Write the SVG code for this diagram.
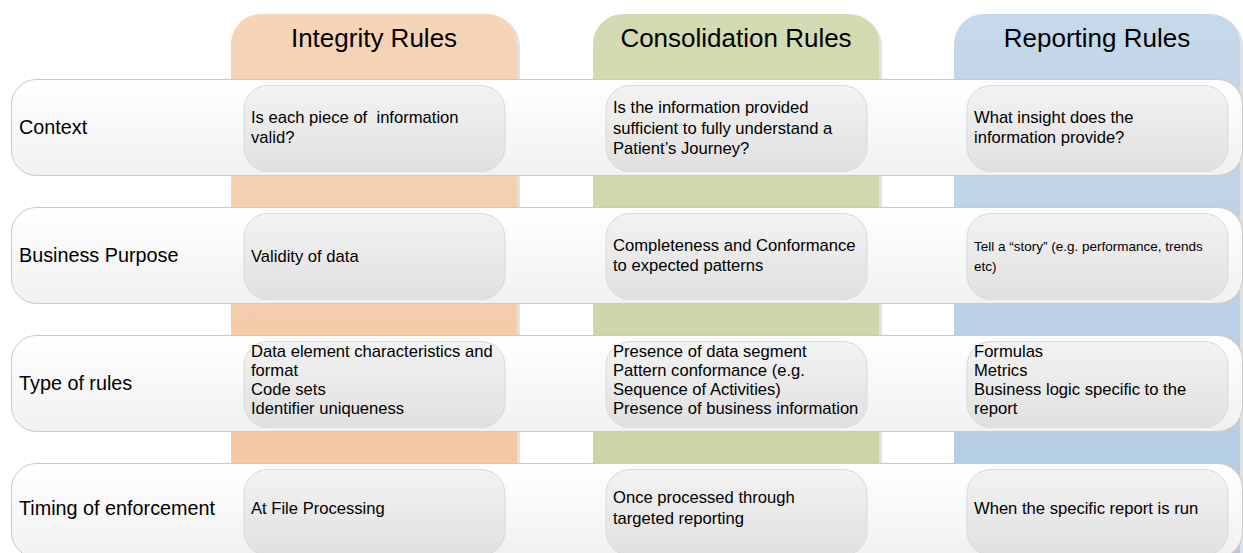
<svg xmlns="http://www.w3.org/2000/svg" width="1243" height="553" viewBox="0 0 1243 553">
<defs>
<linearGradient id="gPeach" x1="0" y1="0" x2="0" y2="1"><stop offset="0" stop-color="#F6D4B8"/><stop offset="1" stop-color="#F2C6A0"/></linearGradient>
<linearGradient id="gGreen" x1="0" y1="0" x2="0" y2="1"><stop offset="0" stop-color="#D3DBB2"/><stop offset="1" stop-color="#C8D3A2"/></linearGradient>
<linearGradient id="gBlue" x1="0" y1="0" x2="0" y2="1"><stop offset="0" stop-color="#C6D8EA"/><stop offset="1" stop-color="#B2CBE3"/></linearGradient>
<linearGradient id="gRow" x1="0" y1="0" x2="0" y2="1"><stop offset="0" stop-color="#FFFFFF"/><stop offset="1" stop-color="#F1F1F1"/></linearGradient>
<linearGradient id="gCell" x1="0" y1="0" x2="0" y2="1"><stop offset="0" stop-color="#F3F3F3"/><stop offset="1" stop-color="#E0E0E0"/></linearGradient>
</defs>
<style>
.shadow{fill:#E2E2E2}
.row{fill:url(#gRow);stroke:#C9C9C9;stroke-width:1}
.cell{fill:url(#gCell);stroke:#D9D9D9;stroke-width:1}
.hdr{font-family:"Liberation Sans",Arial,sans-serif;font-size:26px;fill:#000;text-anchor:middle}
.lbl{font-family:"Liberation Sans",Arial,sans-serif;font-size:19.8px;fill:#000}
.txt{font-family:"Liberation Sans",Arial,sans-serif;font-size:16.6px;fill:#000}
.sm{font-family:"Liberation Sans",Arial,sans-serif;font-size:13.5px;fill:#000}
</style>
<g id="col-integrity">
<path class="shadow" d="M233,553 V46 A30,30 0 0 1 263,16 H490 A30,30 0 0 1 520,46 V553 Z"/>
<path fill="url(#gPeach)" d="M231,553 V44 A30,30 0 0 1 261,14 H487 A30,30 0 0 1 517,44 V553 Z"/>
<text class="hdr" x="374" y="47">Integrity Rules</text>
</g>
<g id="col-consolidation">
<path class="shadow" d="M595,553 V46 A30,30 0 0 1 625,16 H852 A30,30 0 0 1 882,46 V553 Z"/>
<path fill="url(#gGreen)" d="M593,553 V44 A30,30 0 0 1 623,14 H849 A30,30 0 0 1 879,44 V553 Z"/>
<text class="hdr" x="736" y="47">Consolidation Rules</text>
</g>
<g id="col-reporting">
<path class="shadow" d="M956,553 V46 A30,30 0 0 1 986,16 H1213 A30,30 0 0 1 1243,46 V553 Z"/>
<path fill="url(#gBlue)" d="M954,553 V44 A30,30 0 0 1 984,14 H1210 A30,30 0 0 1 1240,44 V553 Z"/>
<text class="hdr" x="1097" y="47">Reporting Rules</text>
</g>
<g id="connectors"/>
<g id="row-context">
<rect class="row" x="11.5" y="79.5" width="1231" height="96" rx="25"/>
<text class="lbl" x="19" y="134">Context</text>
</g>
<g id="row-purpose">
<rect class="row" x="11.5" y="207.5" width="1231" height="96" rx="25"/>
<text class="lbl" x="19" y="262">Business Purpose</text>
</g>
<g id="row-type">
<rect class="row" x="11.5" y="335.5" width="1231" height="96" rx="25"/>
<text class="lbl" x="19" y="390">Type of rules</text>
</g>
<g id="row-timing">
<rect class="row" x="11.5" y="463.5" width="1231" height="94" rx="25"/>
<text class="lbl" x="19" y="515">Timing of enforcement</text>
</g>
<g id="cell-context-integrity">
<rect class="cell" x="244" y="85.5" width="261" height="86" rx="24"/>
<text class="txt" x="251" y="123" xml:space="preserve">Is each piece of  information<tspan x="251" dy="20">valid?</tspan></text>
</g>
<g id="cell-context-consolidation">
<rect class="cell" x="606" y="85.5" width="261" height="86" rx="24"/>
<text class="txt" x="613" y="113">Is the information provided<tspan x="613" dy="20.5">sufficient to fully understand a</tspan><tspan x="613" dy="20.5">Patient’s Journey?</tspan></text>
</g>
<g id="cell-context-reporting">
<rect class="cell" x="967" y="85.5" width="261" height="86" rx="24"/>
<text class="txt" x="974" y="123">What insight does the<tspan x="974" dy="20">information provide?</tspan></text>
</g>
<g id="cell-purpose-integrity">
<rect class="cell" x="244" y="213.5" width="261" height="86" rx="24"/>
<text class="txt" x="251" y="261.5">Validity of data</text>
</g>
<g id="cell-purpose-consolidation">
<rect class="cell" x="606" y="213.5" width="261" height="86" rx="24"/>
<text class="txt" x="613" y="251">Completeness and Conformance<tspan x="613" dy="20">to expected patterns</tspan></text>
</g>
<g id="cell-purpose-reporting">
<rect class="cell" x="967" y="213.5" width="261" height="86" rx="24"/>
<text class="sm" x="974" y="251">Tell a “story” (e.g. performance, trends<tspan x="974" dy="20">etc)</tspan></text>
</g>
<g id="cell-type-integrity">
<rect class="cell" x="244" y="341.5" width="261" height="86" rx="24"/>
<text class="txt" x="251" y="357">Data element characteristics and<tspan x="251" dy="19">format</tspan><tspan x="251" dy="19">Code sets</tspan><tspan x="251" dy="19">Identifier uniqueness</tspan></text>
</g>
<g id="cell-type-consolidation">
<rect class="cell" x="606" y="341.5" width="261" height="86" rx="24"/>
<text class="txt" x="613" y="357">Presence of data segment<tspan x="613" dy="19">Pattern conformance (e.g.</tspan><tspan x="613" dy="19">Sequence of Activities)</tspan><tspan x="613" dy="19">Presence of business information</tspan></text>
</g>
<g id="cell-type-reporting">
<rect class="cell" x="967" y="341.5" width="261" height="86" rx="24"/>
<text class="txt" x="974" y="357">Formulas<tspan x="974" dy="19">Metrics</tspan><tspan x="974" dy="19">Business logic specific to the</tspan><tspan x="974" dy="19">report</tspan></text>
</g>
<g id="cell-timing-integrity">
<rect class="cell" x="244" y="469.5" width="261" height="86" rx="24"/>
<text class="txt" x="251" y="514">At File Processing</text>
</g>
<g id="cell-timing-consolidation">
<rect class="cell" x="606" y="469.5" width="261" height="86" rx="24"/>
<text class="txt" x="613" y="503">Once processed through<tspan x="613" dy="21">targeted reporting</tspan></text>
</g>
<g id="cell-timing-reporting">
<rect class="cell" x="967" y="469.5" width="261" height="86" rx="24"/>
<text class="txt" x="974" y="514">When the specific report is run</text>
</g>
</svg>
